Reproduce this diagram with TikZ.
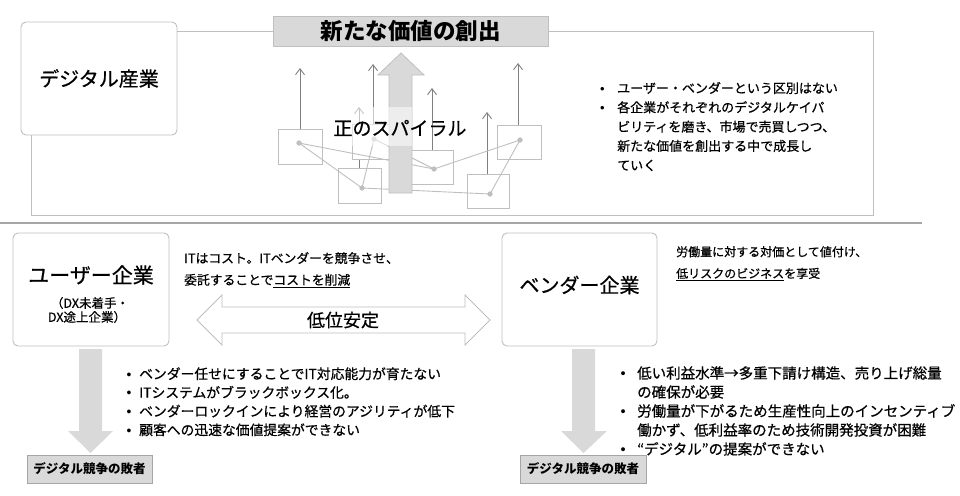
\documentclass[tikz,border=0pt]{standalone}
\usepackage{fontspec}
\setmainfont{Noto Sans CJK JP}[UprightFeatures={FakeBold=0.6}]
\newfontfamily\bulletfont{Liberation Sans}
\usetikzlibrary{arrows.meta}
\definecolor{lgray}{HTML}{BFBFBF}
\definecolor{fgray}{HTML}{D9D9D9}
\definecolor{mgray}{HTML}{A6A6A6}
\definecolor{dgray}{HTML}{808080}
\newcommand\bul[1]{\makebox[#1][l]{\bulletfont •}}
\newcommand\fs[2]{\fontsize{#1}{#2}\selectfont}
\tikzset{
  bigbox/.style={draw=lgray, line width=0.9pt, rounded corners=5pt, fill=white, inner sep=0pt},
  framel/.style={draw=lgray, line width=0.9pt},
  sepline/.style={draw=mgray, line width=1.4pt},
  minibox/.style={draw=lgray, line width=0.8pt, fill=white, inner sep=0pt},
  link/.style={draw=lgray, line width=0.9pt},
  dotm/.style={circle, fill=lgray, inner sep=0pt, minimum size=5pt},
  uparr/.style={draw=dgray, line width=0.9pt, -{Straight Barb[length=6pt,width=9pt,line width=0.9pt]}},
  losebox/.style={draw=mgray, fill=fgray, line width=0.8pt, inner sep=0pt,
     font=\fs{12.5}{14}\bfseries, minimum height=28pt},
  txt/.style={inner sep=0pt, anchor=base west},
}
\begin{document}
\begin{tikzpicture}[x=1pt,y=-1pt]
\useasboundingbox (0,0) rectangle (960,495);

% ---------- top section ----------
\node[bigbox, minimum width=156pt, minimum height=113pt, font=\fs{20}{24}] (dind) at (99,78.5) {デジタル産業};
\node[draw=lgray, fill=fgray, line width=0.9pt, minimum width=275pt, minimum height=30pt, inner sep=0pt,
      font=\fs{22.5}{26}\bfseries] (title) at (410.5,31) {新たな価値の創出};
\coordinate (frTR) at (873,31);
\coordinate (frBR) at (873,215);
\coordinate (frBL) at (31,215);
\draw[framel] (dind.east |- title.west) -- (title.west);
\draw[framel] (title.east) -- (frTR) -- (frBR) -- (frBL) -- (frBL |- dind.south);

\coordinate (sepL) at (0,223);
\coordinate (sepR) at (922,223);
\draw[sepline] (sepL) -- (sepR);

% spiral graphic
\draw[uparr] (359,168) -- (359,107);
\node[minibox, minimum width=44pt, minimum height=35pt] (bA) at (300,146.5) {};
\node[minibox, minimum width=43pt, minimum height=35pt] (bB) at (359.5,185.5) {};
\node[minibox, minimum width=43pt, minimum height=35pt] (bC) at (373.5,141.5) {};
\node[minibox, minimum width=43pt, minimum height=34pt] (bD) at (431.5,167) {};
\node[minibox, minimum width=42pt, minimum height=34pt] (bE) at (488,191) {};
\node[minibox, minimum width=44pt, minimum height=34pt] (bF) at (519,142) {};
\coordinate (tA) at (300,68);
\coordinate (tC) at (373,64);
\coordinate (tD) at (432,88);
\coordinate (tE) at (487,112);
\coordinate (tF) at (518,63);
\draw[uparr] (bA.north) -- (tA);
\draw[uparr] (bC.north -| tC) -- (tC);
\draw[uparr] (bD.north -| tD) -- (tD);
\draw[uparr] (bE.north -| tE) -- (tE);
\draw[uparr] (bF.north -| tF) -- (tF);
\node[dotm] (dA) at (299,143) {};
\node[dotm] (dB) at (362,188) {};
\node[dotm] (dC) at (374,139) {};
\node[dotm] (dD) at (434,169) {};
\node[dotm] (dE) at (490,194) {};
\node[dotm] (dF) at (520,140) {};
\draw[link] (dA.center) -- (dB.center) -- (dC.center) -- (dD.center) -- (dF.center) -- (dE.center) -- (dB.center);
\draw[link] (dA.center) -- (dD.center);
\foreach \d in {dA,dB,dC,dD,dE,dF} \node[dotm] at (\d) {};
% big arrow
\draw[draw=lgray, fill=fgray, line width=0.8pt]
  (389,193) -- (389,75) -- (378,75) -- (401,53) -- (424,75) -- (412,75) -- (412,193) -- cycle;
\fill[white, opacity=0.55] (352,107) rectangle (412,146);
\node[inner sep=0pt, font=\fs{19}{22}] (spiral) at (400,128) {正のスパイラル};

% right text top
\node[txt, font=\fs{13}{19.3}] (toplist) at (600,93) {\begin{tabular}[t]{@{}l@{}l@{}}
\bul{17pt} & ユーザー・ベンダーという区別はない\\
\bul{17pt} & 各企業がそれぞれのデジタルケイパ\\
 & ビリティを磨き、市場で売買しつつ、\\
 & 新たな価値を創出する中で成長し\\
 & ていく
\end{tabular}};

% ---------- bottom section ----------
\node[bigbox, minimum width=156pt, minimum height=113pt] (user) at (91,289.5) {};
\node[inner sep=0pt, font=\fs{21}{24}] (userT) at (91,275) {ユーザー企業};
\node[inner sep=0pt, font=\fs{12.5}{14.5}] (userS1) at (90,303) {（DX未着手・};
\node[inner sep=0pt, font=\fs{12.5}{14.5}] (userS2) at (87,317) {DX途上企業）};

\node[bigbox, minimum width=155pt, minimum height=113pt] (vend) at (579.5,289.5) {};
\node[inner sep=0pt, font=\fs{20}{24}] (vendT) at (579.5,285) {ベンダー企業};

\node[txt, font=\fs{12.8}{21.7}] (usertxt) at (184,263) {\begin{tabular}[t]{@{}l@{}}
ITはコスト。ITベンダーを競争させ、\\
委託することで\underline{コストを削減}
\end{tabular}};
\node[txt, font=\fs{12}{21.7}] (vendtxt) at (676,256.3) {\begin{tabular}[t]{@{}l@{}}
労働量に対する対価として値付け、\\
\underline{低リスクのビジネス}を享受
\end{tabular}};

% double arrow
\draw[draw=lgray, fill=white, line width=0.9pt]
  (197,320) -- (222,295) -- (222,307) -- (465,307) -- (465,295) -- (490,320)
  -- (465,345) -- (465,333) -- (222,333) -- (222,345) -- cycle;
\node[inner sep=0pt, font=\fs{18}{20}] (teii) at (343,320) {低位安定};

% down arrows
\fill[fgray] (79,349) -- (102,349) -- (102,431) -- (113,431) -- (90.5,453) -- (68,431) -- (79,431) -- cycle;
\fill[fgray] (572,349) -- (595,349) -- (595,431) -- (607,431) -- (583.5,453) -- (561,431) -- (572,431) -- cycle;

\node[losebox, minimum width=125pt] (loseL) at (89.5,469) {デジタル競争の敗者};
\node[losebox, minimum width=126pt] (loseR) at (583,469) {デジタル競争の敗者};

\node[txt, font=\fs{13.8}{18.7}] (userlist) at (126.5,379) {\begin{tabular}[t]{@{}l@{}l@{}}
\bul{12.5pt} & ベンダー任せにすることでIT対応能力が育たない\\
\bul{12.5pt} & ITシステムがブラックボックス化。\\
\bul{12.5pt} & ベンダーロックインにより経営のアジリティが低下\\
\bul{12.5pt} & 顧客への迅速な価値提案ができない
\end{tabular}};

\node[txt, font=\fs{14.5}{19}] (vendlist) at (620.5,378.5) {\begin{tabular}[t]{@{}l@{}l@{}}
\bul{16.5pt} & 低い利益水準→多重下請け構造、売り上げ総量\\
 & の確保が必要\\
\bul{16.5pt} & 労働量が下がるため生産性向上のインセンティブ\\
 & 働かず、低利益率のため技術開発投資が困難\\
\bul{16.5pt} & “デジタル”の提案ができない
\end{tabular}};
\end{tikzpicture}
\end{document}
